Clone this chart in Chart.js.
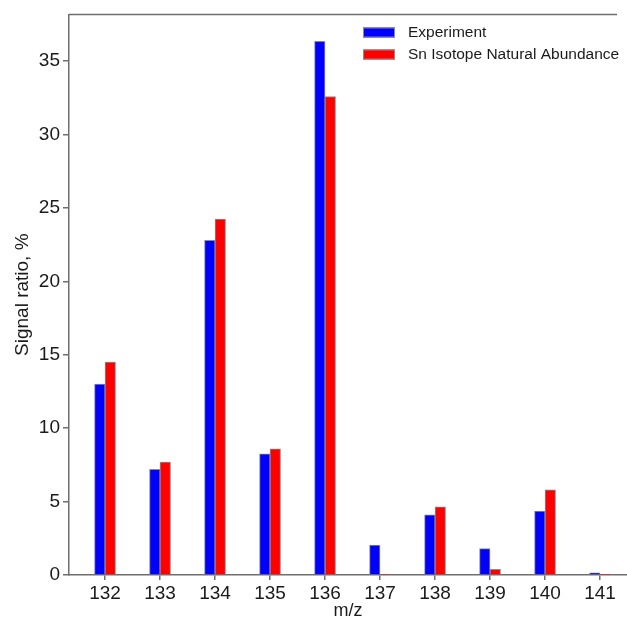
<!DOCTYPE html>
<html>
<head>
<meta charset="utf-8">
<script src="https://cdn.jsdelivr.net/npm/chart.js@4"></script>
<style>
  html, body { margin: 0; padding: 0; background: #fff; }
  #wrap { width: 627px; height: 622px; }
</style>
</head>
<body>
<div id="wrap"><canvas id="c" width="627" height="622"></canvas></div>
<script>
// m/z values of the measured peaks
const massNumbers = [132, 133, 134, 135, 136, 137, 138, 139, 140, 141];
// measured signal share per peak, %
const experiment = [13.0, 7.2, 22.8, 8.25, 36.35, 2.03, 4.1, 1.8, 4.35, 0.14];
// expected share from natural Sn isotope abundance, %
const naturalAbundance = [14.5, 7.7, 24.25, 8.6, 32.6, 0.04, 4.65, 0.38, 5.8, 0.03];
const yTicks = [0, 5, 10, 15, 20, 25, 30, 35];

const FONT = '"Liberation Sans", Arial, sans-serif';
const AXIS_COLOR = '#6e6e6e';
const TEXT_COLOR = '#1a1a1a';

const toPoints = vals => vals.map((v, i) => ({ x: massNumbers[i], y: v }));

// Legend boxes drawn inside the plot, top right
const insideLegend = {
  id: 'insideLegend',
  afterDraw(chart) {
    const ctx = chart.ctx;
    const area = chart.chartArea;
    // frame line along the top of the plot
    ctx.save();
    ctx.strokeStyle = AXIS_COLOR;
    ctx.lineWidth = 1.5;
    ctx.beginPath();
    ctx.moveTo(area.left, area.top);
    ctx.lineTo(617, area.top);
    ctx.stroke();

    ctx.font = '15.5px ' + FONT;
    ctx.textBaseline = 'middle';
    ctx.textAlign = 'left';
    chart.data.datasets.forEach((ds, i) => {
      const y = 27.5 + i * 22;
      ctx.fillStyle = ds.backgroundColor;
      ctx.fillRect(363, y, 32, 10);
      ctx.strokeStyle = '#8c8c8c';
      ctx.lineWidth = 1;
      ctx.strokeRect(363.5, y + 0.5, 31, 9);
      ctx.fillStyle = TEXT_COLOR;
      ctx.fillText(ds.label, 408, y + 5);
    });
    ctx.restore();
  }
};

new Chart(document.getElementById('c'), {
  type: 'bar',
  data: {
    datasets: [
      {
        label: 'Experiment',
        data: toPoints(experiment),
        backgroundColor: '#0000ff',
        borderColor: '#8c8c8c',
        borderWidth: 1,
        barThickness: 10.5
      },
      {
        label: 'Sn Isotope Natural Abundance',
        data: toPoints(naturalAbundance),
        backgroundColor: '#ff0000',
        borderColor: '#8c8c8c',
        borderWidth: 1,
        barThickness: 10.5
      }
    ]
  },
  options: {
    responsive: false,
    animation: false,
    layout: { padding: { top: 12, right: 0, left: 0, bottom: 0 } },
    plugins: {
      legend: { display: false },
      tooltip: { enabled: false }
    },
    scales: {
      x: {
        type: 'linear',
        offset: false,
        min: 131.345,
        max: 141.49,
        afterFit: s => { s.height = 47; },
        afterBuildTicks: s => { s.ticks = massNumbers.map(v => ({ value: v })); },
        border: { display: true, color: AXIS_COLOR, width: 1.5 },
        grid: { offset: false, drawOnChartArea: false, drawTicks: true, tickLength: 5, color: AXIS_COLOR, lineWidth: 1.5 },
        ticks: {
          padding: 2,
          color: TEXT_COLOR,
          font: { family: FONT, size: 19 },
          callback: v => String(v)
        },
        title: {
          display: true,
          text: 'm/z',
          color: TEXT_COLOR,
          font: { family: FONT, size: 18 },
          padding: { top: -4, bottom: 0 }
        }
      },
      y: {
        min: 0,
        max: 38.19,
        afterFit: s => { s.width = 69; },
        afterBuildTicks: s => { s.ticks = yTicks.map(v => ({ value: v })); },
        border: { display: true, color: AXIS_COLOR, width: 1.5 },
        grid: { drawOnChartArea: false, drawTicks: true, tickLength: 6, color: AXIS_COLOR, lineWidth: 1.5 },
        ticks: {
          padding: 3,
          color: TEXT_COLOR,
          font: { family: FONT, size: 19 }
        },
        title: {
          display: true,
          text: 'Signal ratio, %',
          color: TEXT_COLOR,
          font: { family: FONT, size: 19 },
          padding: { top: 11, bottom: 0 }
        }
      }
    }
  },
  plugins: [insideLegend]
});
</script>
</body>
</html>
